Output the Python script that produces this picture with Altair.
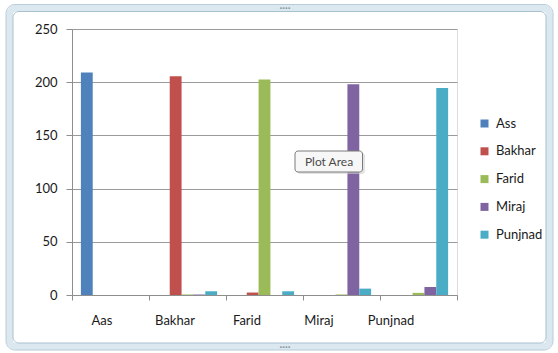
import altair as alt
import pandas as pd

# Categories on the x axis and the five series drawn in each group
groups = ["Aas", "Bakhar", "Farid", "Miraj", "Punjnad"]
series_names = ["Ass", "Bakhar", "Farid", "Miraj", "Punjnad"]

# One list per series, values in group order
ass = [209, 0, 0, 0, 0]
bakhar = [0, 205.5, 2.3, 0, 0]
farid = [0, 0.5, 202.5, 0.5, 2]
miraj = [0, 0.5, 0, 198, 7.5]
punjnad = [0, 3.5, 3.5, 6, 194.5]

series_colors = ["#4F81BD", "#C0504D", "#9BBB59", "#8064A2", "#4BACC6"]
y_ticks = [0, 50, 100, 150, 200, 250]

rows = []
for name, vals in zip(series_names, [ass, bakhar, farid, miraj, punjnad]):
    for g, v in zip(groups, vals):
        rows.append({"group": g, "series": name, "value": v})
df = pd.DataFrame(rows)

FONT = "Lato"
AXIS_GRAY = "#8e8e8e"
W, H = 385, 266

# Category labels sit a little left of the group centres
label_shift = [-9, -13, -18, -23, -28]
label_offset = {
    "condition": [
        {"test": f"datum.value === '{g}'", "value": s}
        for g, s in zip(groups, label_shift)
    ],
    "value": 0,
}

bars = alt.Chart(df).mark_bar().encode(
    x=alt.X(
        "group:N",
        sort=groups,
        scale=alt.Scale(paddingInner=0, paddingOuter=0),
        axis=alt.Axis(
            title=None,
            tickBand="extent",
            tickSize=5,
            tickColor=AXIS_GRAY,
            domainColor=AXIS_GRAY,
            labelAngle=0,
            labelPadding=14,
            labelFontSize=13,
            labelColor="#1a1a1a",
            labelOffset=label_offset,
        ),
    ),
    xOffset=alt.XOffset(
        "series:N",
        sort=series_names,
        scale=alt.Scale(paddingInner=0, paddingOuter=0.75),
    ),
    y=alt.Y(
        "value:Q",
        scale=alt.Scale(domain=[0, 250], nice=False),
        axis=alt.Axis(
            title=None,
            values=y_ticks,
            grid=True,
            gridColor="#9a9a9a",
            gridWidth=1,
            tickSize=6,
            tickColor=AXIS_GRAY,
            domainColor=AXIS_GRAY,
            labelPadding=9,
            labelFontSize=13,
            labelColor="#1a1a1a",
        ),
    ),
    color=alt.Color(
        "series:N",
        sort=series_names,
        scale=alt.Scale(domain=series_names, range=series_colors),
        legend=alt.Legend(
            title=None,
            orient="none",
            legendX=406,
            legendY=88,
            symbolType="square",
            symbolSize=64,
            symbolStrokeWidth=0,
            labelFontSize=13,
            labelColor="#1a1a1a",
            labelOffset=5,
            rowPadding=13.8,
            padding=0,
        ),
    ),
)

one = alt.Data(values=[{}])

# Chart-object frame: light blue band with thin edges
frame_band = alt.Chart(one).mark_rect(
    fillOpacity=0, stroke="#dbe8f0", strokeWidth=7, cornerRadius=7
).encode(
    x=alt.value(-62.5), x2=alt.value(477.5), y=alt.value(-21), y2=alt.value(317.5)
)
frame_outer = alt.Chart(one).mark_rect(
    fillOpacity=0, stroke="#b9ccd9", strokeWidth=1, cornerRadius=9
).encode(
    x=alt.value(-66), x2=alt.value(481), y=alt.value(-24.5), y2=alt.value(321)
)
frame_inner = alt.Chart(one).mark_rect(
    fillOpacity=0, stroke="#a9c0cf", strokeWidth=1, cornerRadius=6
).encode(
    x=alt.value(-59), x2=alt.value(474), y=alt.value(-17.5), y2=alt.value(314)
)
handles = alt.Chart(alt.Data(values=[{"t": "····"}])).mark_text(
    font=FONT, fontSize=10, color="#8a9aa6", fontWeight="bold"
).encode(
    text="t:N", x=alt.value(213), y=alt.value(-21)
)
handles_bottom = alt.Chart(alt.Data(values=[{"t": "····"}])).mark_text(
    font=FONT, fontSize=10, color="#8a9aa6", fontWeight="bold"
).encode(
    text="t:N", x=alt.value(213), y=alt.value(318)
)

# Hover tip over the plot area
tip_shadow = alt.Chart(one).mark_rect(
    fill="#d0d0d0", opacity=0.6, cornerRadius=3
).encode(
    x=alt.value(225), x2=alt.value(293), y=alt.value(124), y2=alt.value(145)
)
tip_box = alt.Chart(one).mark_rect(
    fill="#f7f7f7", stroke="#7a7a7a", strokeWidth=1, cornerRadius=3
).encode(
    x=alt.value(223), x2=alt.value(290.5), y=alt.value(122), y2=alt.value(143)
)
tip_text = alt.Chart(alt.Data(values=[{"t": "Plot Area"}])).mark_text(
    font=FONT, fontSize=12, color="#4a4a4a"
).encode(
    text="t:N", x=alt.value(257), y=alt.value(133)
)

chart = alt.layer(
    frame_band, frame_outer, frame_inner, handles, handles_bottom,
    bars, tip_shadow, tip_box, tip_text,
).properties(
    width=W,
    height=H,
    autosize=alt.AutoSizeParams(type="none"),
    padding={"left": 72, "top": 29, "right": 101, "bottom": 58},
    background="white",
).configure_view(
    stroke=None
).configure(
    font=FONT
)

chart.save("out.html", embed_options={"renderer": "svg", "actions": False})
